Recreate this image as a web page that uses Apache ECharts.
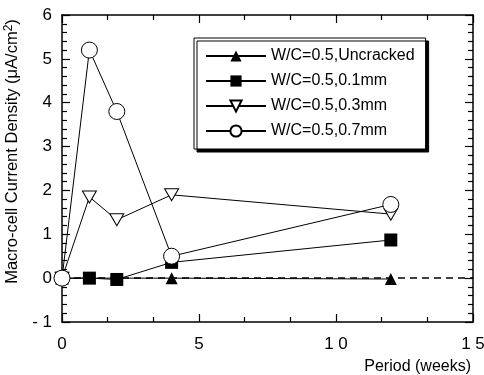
<!DOCTYPE html>
<html>
<head>
<meta charset="utf-8">
<script src="https://cdn.jsdelivr.net/npm/echarts@6/dist/echarts.min.js"></script>
<style>
  html, body { margin: 0; padding: 0; background: #fff; }
  #chart { width: 484px; height: 375px; }
</style>
</head>
<body>
<div id="chart"></div>
<script>
// data
var weeks = [0, 1, 2, 4, 12];
var uncracked = [[0, 0], [4, 0], [12, -0.02]];
var crack01 = [0, 0, -0.03, 0.36, 0.87];
var crack03 = [0, 1.85, 1.33, 1.9, 1.46];
var crack07 = [0, 5.2, 3.8, 0.5, 1.68];
var names = ['W/C=0.5,Uncracked', 'W/C=0.5,0.1mm', 'W/C=0.5,0.3mm', 'W/C=0.5,0.7mm'];

function pairs(vals) {
  return weeks.map(function (w, i) { return [w, vals[i]]; });
}
function spaced(v) { return String(v).split('').join(' '); }

var font = 'Liberation Sans, Arial, sans-serif';
var chart = echarts.init(document.getElementById('chart'));

var lineStyle = { color: '#000', width: 1 };

// shared axis look: frame lines with inward ticks
function frameAxis(extra) {
  var base = {
    type: 'value',
    axisLine: { onZero: false, lineStyle: { color: '#000', width: 1.5 } },
    axisTick: { inside: true, length: 8, lineStyle: { color: '#000', width: 1.2 } },
    minorTick: { show: true, length: 5, lineStyle: { color: '#000', width: 1.2 } },
    splitLine: { show: false }
  };
  return Object.assign(base, extra);
}

var option = {
  animation: false,
  textStyle: { fontFamily: font, color: '#000' },
  grid: { left: 62, right: 11, top: 15, bottom: 53, outerBoundsMode: 'none' },
  legend: {
    orient: 'vertical',
    left: 194,
    top: 38,
    data: names,
    itemWidth: 60,
    itemHeight: 14,
    itemGap: 9,
    padding: [10, 11, 10, 11],
    borderColor: '#000',
    borderWidth: 1,
    backgroundColor: '#fff',
    shadowColor: '#000',
    shadowOffsetX: 3,
    shadowOffsetY: 3,
    shadowBlur: 0,
    textStyle: { fontSize: 16, color: '#000', fontFamily: font }
  },
  xAxis: [
    frameAxis({
      min: 0, max: 15, interval: 5,
      name: 'Period (weeks)',
      nameLocation: 'end',
      nameGap: 0,
      nameTextStyle: { fontSize: 16, align: 'right', verticalAlign: 'top', padding: [37, 2, 0, 0] },
      minorTick: { show: true, splitNumber: 3, length: 5, lineStyle: { color: '#000', width: 1.2 } },
      axisLabel: { fontSize: 17, margin: 14, color: '#000', formatter: spaced }
    }),
    frameAxis({
      min: 0, max: 15, interval: 5, position: 'top',
      minorTick: { show: true, splitNumber: 3, length: 5, lineStyle: { color: '#000', width: 1.2 } },
      axisLabel: { show: false }
    })
  ],
  yAxis: [
    frameAxis({
      min: -1, max: 6, interval: 1,
      name: '{t|Macro-cell Current Density (μA/cm}{s|2}{t|)}',
      nameLocation: 'middle',
      nameGap: 20,
      nameRotate: 90,
      nameTextStyle: {
        padding: [0, 0, 0, 34],
        rich: {
          t: { fontSize: 16.5, fontFamily: font, color: '#000' },
          s: { fontSize: 12, fontFamily: font, color: '#000', verticalAlign: 'bottom', padding: [0, 0, 8, 0] }
        }
      },
      minorTick: { show: true, splitNumber: 5, length: 5, lineStyle: { color: '#000', width: 1.2 } },
      axisLabel: { fontSize: 17, margin: 10, color: '#000', formatter: spaced }
    }),
    frameAxis({
      min: -1, max: 6, interval: 1, position: 'right',
      minorTick: { show: true, splitNumber: 5, length: 5, lineStyle: { color: '#000', width: 1.2 } },
      axisLabel: { show: false }
    })
  ],
  series: [
    {
      name: names[0],
      type: 'line',
      data: uncracked,
      symbol: 'triangle',
      symbolSize: 12,
      itemStyle: { color: '#000' },
      lineStyle: lineStyle,
      markLine: {
        silent: true,
        symbol: 'none',
        label: { show: false },
        lineStyle: { color: '#000', type: [7, 5], width: 1.5 },
        data: [{ yAxis: 0 }]
      },
      z: 3
    },
    {
      name: names[1],
      type: 'line',
      data: pairs(crack01),
      symbol: 'rect',
      symbolSize: 13,
      itemStyle: { color: '#000' },
      lineStyle: lineStyle,
      z: 4
    },
    {
      name: names[2],
      type: 'line',
      data: pairs(crack03),
      symbol: 'path://M0,0 L10,0 L5,9 Z',
      symbolSize: [14, 12],
      itemStyle: { color: '#fff', borderColor: '#000', borderWidth: 1 },
      lineStyle: lineStyle,
      z: 5
    },
    {
      name: names[3],
      type: 'line',
      data: pairs(crack07),
      symbol: 'circle',
      symbolSize: 16,
      itemStyle: { color: '#fff', borderColor: '#000', borderWidth: 1 },
      lineStyle: lineStyle,
      z: 6
    }
  ]
};

chart.setOption(option);
</script>
</body>
</html>
